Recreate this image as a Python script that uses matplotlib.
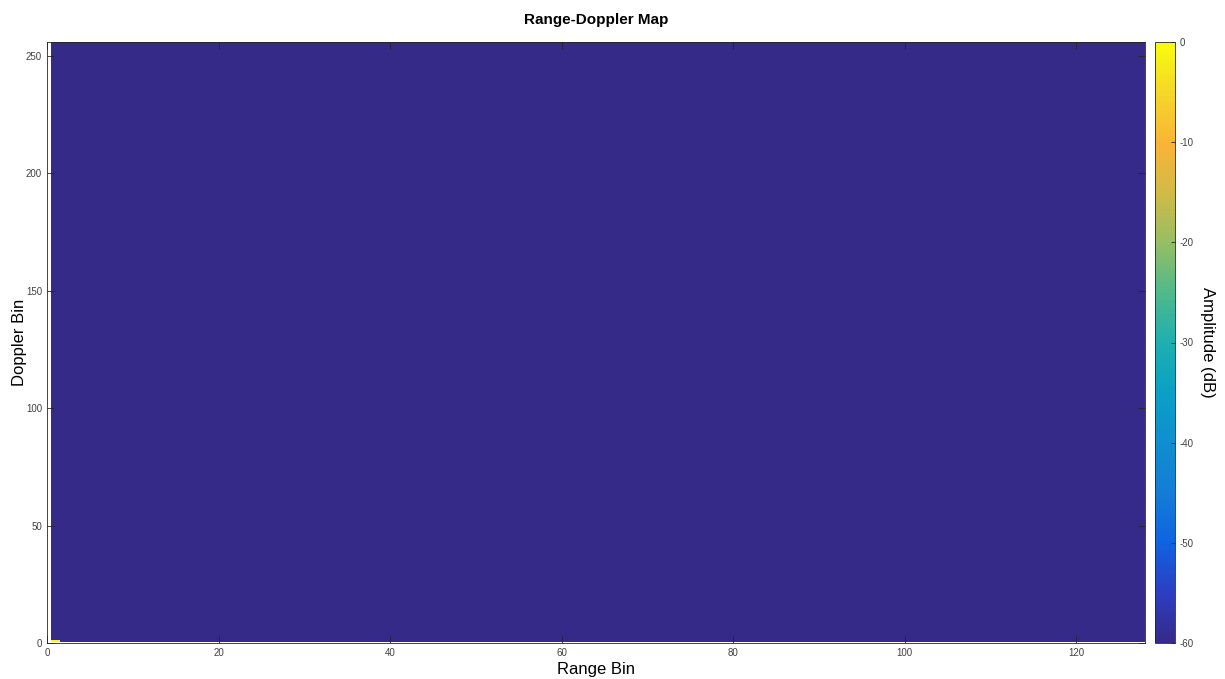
import numpy as np
import matplotlib
matplotlib.use("Agg")
import matplotlib.pyplot as plt
from matplotlib.colors import LinearSegmentedColormap

# range-doppler map size and contents (dB)
n_range = 128
n_doppler = 256
noise_floor_db = -60.0
peak_db = 0.0
peak_range_bin = 1
peak_doppler_bin = 1
clim = (-60, 0)

x_ticks = [0, 20, 40, 60, 80, 100, 120]
y_ticks = [0, 50, 100, 150, 200, 250]
cbar_ticks = [-60, -50, -40, -30, -20, -10, 0]

# parula-like colormap (position, rgb 0-255)
parula_pts = [
    (0.000, (53, 42, 135)),
    (0.083, (45, 62, 195)),
    (0.167, (15, 100, 225)),
    (0.250, (20, 125, 215)),
    (0.333, (15, 142, 208)),
    (0.417, (10, 160, 198)),
    (0.500, (30, 175, 175)),
    (0.583, (80, 185, 140)),
    (0.667, (150, 190, 100)),
    (0.750, (210, 186, 70)),
    (0.833, (250, 180, 55)),
    (0.917, (245, 215, 40)),
    (1.000, (249, 251, 14)),
]
parula = LinearSegmentedColormap.from_list(
    "parula", [(p, tuple(c / 255 for c in rgb)) for p, rgb in parula_pts], N=256)

rd_map = np.full((n_doppler, n_range), noise_floor_db)
rd_map[peak_doppler_bin - 1, peak_range_bin - 1] = peak_db

plt.rcParams['font.family'] = ['Liberation Sans', 'DejaVu Sans']
plt.rcParams['axes.unicode_minus'] = False
fig = plt.figure(figsize=(12.25, 6.79), dpi=100)
ax = fig.add_axes([47 / 1225, 1 - 643 / 679, (1145 - 47) / 1225, (643 - 42) / 679])
cax = fig.add_axes([1155 / 1225, 1 - 643 / 679, 20 / 1225, (643 - 42) / 679])

im = ax.imshow(rd_map, cmap=parula, vmin=clim[0], vmax=clim[1], origin='lower',
               aspect='auto', interpolation='nearest',
               extent=[0.5, n_range + 0.5, 0.5, n_doppler + 0.5])
ax.set_xlim(0, n_range)
ax.set_ylim(0, n_doppler)
ax.set_xticks(x_ticks)
ax.set_yticks(y_ticks)
ax.tick_params(direction='in', length=5, width=0.6, labelsize=7, colors='#262626',
               top=True, right=True, labelcolor='#404040')
for s in ax.spines.values():
    s.set_color('#262626')
    s.set_linewidth(0.6)

ax.set_title('Range-Doppler Map', fontsize=11, fontweight='bold', pad=13)
ax.set_xlabel('Range Bin', fontsize=12, labelpad=3)
ax.set_ylabel('Doppler Bin', fontsize=12, labelpad=-1)

cb = fig.colorbar(im, cax=cax, ticks=cbar_ticks)
cb.ax.tick_params(direction='in', length=3, width=0.6, labelsize=7, colors='#262626',
                  labelcolor='#404040')
cb.outline.set_linewidth(0.6)
cb.outline.set_edgecolor('#262626')
cb.set_label('Amplitude (dB)', fontsize=12, rotation=-90, labelpad=15)

fig.savefig('out.png', dpi=100)
